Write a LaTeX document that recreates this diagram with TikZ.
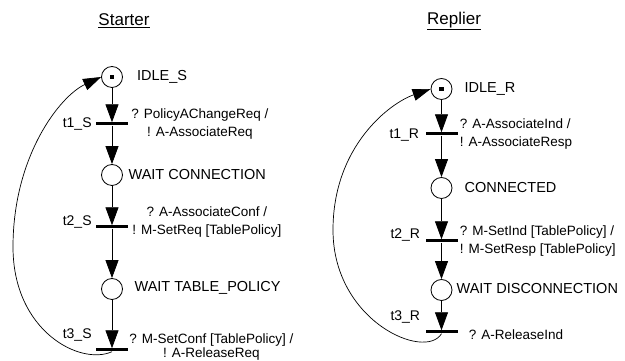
\documentclass[tikz,border=0pt]{standalone}
\usepackage{fontspec}
\setmainfont{Liberation Sans}
\usetikzlibrary{arrows.meta,positioning}

\begin{document}
\begin{tikzpicture}[
    x=1pt, y=1pt,
    place/.style={
      draw, circle, line width=0.8pt,
      minimum size=21pt, inner sep=0pt
    },
    trans/.style={fill, rectangle, minimum width=32pt, minimum height=3pt, inner sep=0pt},
    token/.style={fill, rectangle, minimum size=4.5pt, inner sep=0pt},
    arc/.style={draw, line width=0.8pt, -{Triangle[length=18pt,width=13pt]}},
    loop/.style={draw, line width=0.7pt, -{Triangle[length=18pt,width=12pt]}},
    state label/.style={font=\fontsize{14.5}{17}\selectfont, inner sep=0pt},
    trans label/.style={font=\fontsize{13.5}{18}\selectfont, inner sep=0pt, align=center},
    trans name/.style={font=\fontsize{14}{16}\selectfont, inner sep=0pt},
    title/.style={font=\fontsize{17}{20}\selectfont, inner sep=0pt}
  ]
  \useasboundingbox (0,0) rectangle (625,361);

  % Starter
  \node[title] (starter) at (124,340) {\underline{Starter}};
  \node[place] (idleS) at (112,284) {};
  \node[token] at (idleS) {};
  \node[trans] (t1S) at (112,237) {};
  \node[place] (waitConn) at (112,186) {};
  \node[trans] (t2S) at (112,134) {};
  \node[place] (waitPol) at (112,72) {};
  \node[trans] (t3S) at (112,11) {};

  \node[state label, right=14pt of idleS] {IDLE\_S};
  \node[state label, right=5.5pt of waitConn] {WAIT CONNECTION};
  \node[state label, right=11.5pt of waitPol, yshift=1pt] {WAIT TABLE\_POLICY};

  \node[trans name, left=4pt of t1S] {t1\_S};
  \node[trans name, left=4pt of t2S, yshift=5pt] {t2\_S};
  \node[trans name, left=4pt of t3S, yshift=15pt] {t3\_S};

  \node[trans label, right=3pt of t1S] {? PolicyAChangeReq /\\ ! A-AssociateReq};
  \node[trans label, right=4pt of t2S, yshift=4.5pt] {? A-AssociateConf /\\ ! M-SetReq [TablePolicy]};
  \node[trans label, right=1pt of t3S, yshift=3pt,
    font=\fontsize{13.5}{14.5}\selectfont] {? M-SetConf [TablePolicy] /\\ ! A-ReleaseReq};

  \draw[arc] (idleS) -- (t1S);
  \draw[arc] (t1S) -- (waitConn);
  \draw[arc] (waitConn) -- (t2S);
  \draw[arc] (t2S) -- (waitPol);
  \draw[arc] (waitPol) -- (t3S);
  \coordinate (loopS) at (13,114);
  \draw[loop] (t3S.south) .. controls (80,-5) and (13,30) .. (loopS)
    .. controls (13,205) and (60,265) .. (idleS.west);

  % Replier
  \node[title] (replier) at (454,340) {\underline{Replier}};
  \node[place] (idleR) at (441.5,272) {};
  \node[token] at (idleR) {};
  \node[trans] (t1R) at (441.5,227) {};
  \node[place] (conn) at (441.5,173) {};
  \node[trans] (t2R) at (441.5,120) {};
  \node[place] (waitDisc) at (441.5,71) {};
  \node[trans] (t3R) at (441.5,29) {};

  \node[state label, right=12pt of idleR] {IDLE\_R};
  \node[state label, right=12pt of conn] {CONNECTED};
  \node[state label, right=4pt of waitDisc, yshift=1pt] {WAIT DISCONNECTION};

  \node[trans name, left=6pt of t1R, yshift=-1pt] {t1\_R};
  \node[trans name, left=5pt of t2R, yshift=6pt] {t2\_R};
  \node[trans name, left=5pt of t3R, yshift=15pt] {t3\_R};

  \node[trans label, right=2pt of t1R, align=left] {? A-AssociateInd /\\ ! A-AssociateResp};
  \node[trans label, right=2pt of t2R, align=left] {? M-SetInd [TablePolicy] /\\ ! M-SetResp [TablePolicy]};
  \node[trans label, right=11pt of t3R, yshift=-3pt] {? A-ReleaseInd};

  \draw[arc] (idleR) -- (t1R);
  \draw[arc] (t1R) -- (conn);
  \draw[arc] (conn) -- (t2R);
  \draw[arc] (t2R) -- (waitDisc);
  \draw[arc] (waitDisc) -- (t3R);
  \coordinate (loopR) at (333,131);
  \draw[loop] (t3R.south) .. controls (425,0) and (333,40) .. (loopR)
    .. controls (333,215) and (390,258) .. (idleR.west);

\end{tikzpicture}
\end{document}
